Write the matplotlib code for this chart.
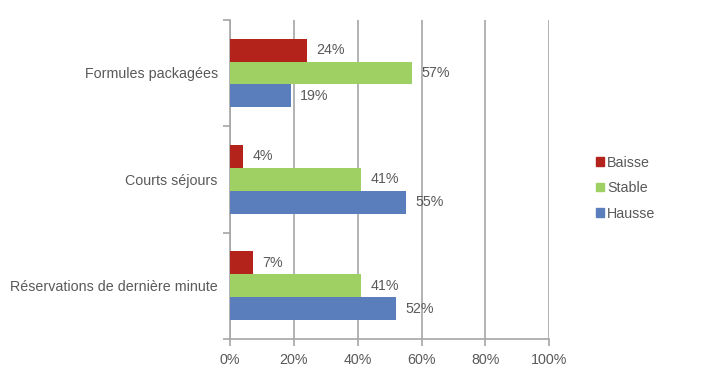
import numpy as np
import matplotlib.pyplot as plt
from matplotlib.patches import Patch

plt.rcParams['font.family'] = ['Liberation Sans', 'DejaVu Sans']

categories = ['Formules packagées', 'Courts séjours', 'Réservations de dernière minute']
baisse = [24, 4, 7]
stable = [57, 41, 41]
hausse = [19, 55, 52]
series = [('Baisse', baisse, '#B3231B'), ('Stable', stable, '#9FD063'), ('Hausse', hausse, '#5A7DBC')]
xticks = [0, 20, 40, 60, 80, 100]

txt = '#595959'
grid = '#A6A6A6'
fs = 10.3

fig = plt.figure(figsize=(7.04, 3.80), dpi=100)
ax = fig.add_axes([0.327, 0.108, 0.453, 0.84])

y = np.arange(len(categories))
h = 0.215
for i, (name, vals, col) in enumerate(series):
    pos = y + (i - 1) * h
    ax.barh(pos, vals, height=h, color=col, zorder=3)
    for p, v in zip(pos, vals):
        ax.text(v + 3, p, '%d%%' % v, va='center', ha='left', fontsize=fs, color=txt, zorder=4)

ax.set_xlim(0, 100)
ax.set_ylim(len(categories) - 0.5, -0.5)
ax.set_xticks(xticks)
ax.set_xticklabels(['%d%%' % t for t in xticks], fontsize=fs, color=txt)
ax.set_yticks(y)
ax.set_yticklabels(categories, fontsize=fs, color=txt)
ax.tick_params(axis='y', length=0, pad=9)
ax.set_yticks(np.arange(len(categories) + 1) - 0.5, minor=True)
ax.tick_params(axis='y', which='minor', length=5, color=grid, width=1.2)
ax.tick_params(axis='x', length=5, color=grid, width=1.2, pad=5)

ax.xaxis.grid(True, color=grid, linewidth=1.2, zorder=0)
for s in ['top', 'right']:
    ax.spines[s].set_visible(False)
for s in ['left', 'bottom']:
    ax.spines[s].set_color(grid)
    ax.spines[s].set_linewidth(1.2)

handles = [Patch(color=c, label=n) for n, _, c in series]
fig.legend(handles=handles, loc='center left', bbox_to_anchor=(0.828, 0.505), frameon=False,
           fontsize=fs, labelcolor=txt, handlelength=0.55, handleheight=0.55, handletextpad=0.25,
           labelspacing=0.8)

fig.savefig('out.png', dpi=100)
